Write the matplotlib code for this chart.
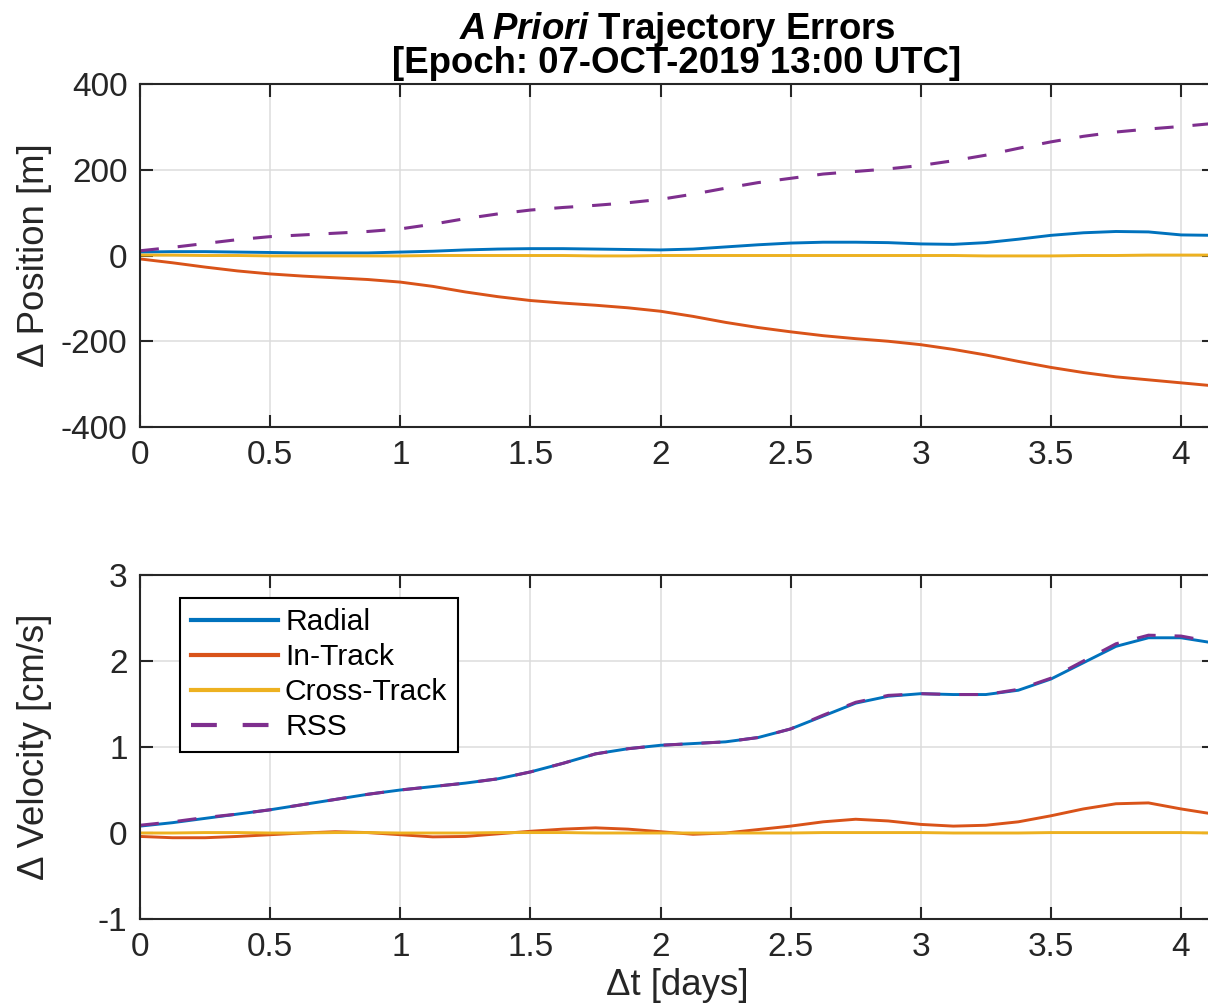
import numpy as np
import matplotlib
matplotlib.use("Agg")
import matplotlib.pyplot as plt

plt.rcParams["font.family"] = ["Liberation Sans", "DejaVu Sans"]
plt.rcParams["mathtext.fontset"] = "custom"
plt.rcParams["mathtext.bfit"] = "Liberation Sans:italic:bold"
plt.rcParams["mathtext.rm"] = "Liberation Sans"

# time since epoch [days]
t = [0, .125, .25, .375, .5, .625, .75, .875, 1.0, 1.125, 1.25, 1.375, 1.5,
     1.625, 1.75, 1.875, 2.0, 2.125, 2.25, 2.375, 2.5, 2.625, 2.75, 2.875,
     3.0, 3.125, 3.25, 3.375, 3.5, 3.625, 3.75, 3.875, 4.0, 4.125]

# position errors [m]
pos_radial = [8, 9, 9, 8, 7, 6, 6, 6, 8, 10, 13, 15, 16, 16, 15, 14, 13, 15,
              20, 25, 29, 31, 31, 30, 27, 26, 30, 38, 47, 53, 56, 55, 48, 47]
pos_intrack = [-8, -17, -27, -36, -43, -48, -52, -56, -62, -72, -85, -96, -105,
               -111, -116, -122, -130, -142, -156, -168, -178, -187, -194, -200,
               -208, -219, -232, -247, -261, -273, -283, -290, -297, -304]
pos_cross = [1, 1, 0, 0, -1, -1, -1, -1, -1, 0, 0, 0, 0, 0, -1, -1, 0, 0, 0, 0,
             0, 0, 0, 0, 0, 0, -1, -1, -1, 0, 0, 1, 1, 1]
pos_rss = [11, 19, 28, 37, 44, 48, 52, 56, 62, 73, 86, 97, 106, 112, 117, 123,
           131, 143, 157, 170, 180, 190, 196, 202, 210, 221, 234, 250, 265, 278,
           288, 295, 301, 308]

# velocity errors [cm/s]
vel_radial = [0.08, 0.12, 0.17, 0.22, 0.27, 0.33, 0.39, 0.45, 0.50, 0.54, 0.58,
              0.63, 0.71, 0.81, 0.92, 0.98, 1.02, 1.04, 1.06, 1.11, 1.21, 1.36,
              1.51, 1.59, 1.62, 1.61, 1.61, 1.66, 1.79, 1.98, 2.17, 2.27, 2.27,
              2.21]
vel_intrack = [-0.04, -0.055, -0.055, -0.04, -0.02, 0.0, 0.015, 0.005, -0.02,
               -0.045, -0.04, -0.01, 0.02, 0.045, 0.06, 0.045, 0.015, -0.015,
               0.0, 0.04, 0.08, 0.13, 0.16, 0.14, 0.10, 0.08, 0.09, 0.13, 0.20,
               0.28, 0.34, 0.35, 0.28, 0.22]
vel_cross = [0.0, 0.0, 0.005, 0.005, 0.0, 0.0, 0.005, 0.005, 0.0, 0.0, 0.0,
             0.005, 0.005, 0.005, 0.0, 0.0, 0.0, 0.0, 0.0, 0.0, 0.0, 0.005,
             0.005, 0.005, 0.005, 0.0, 0.0, 0.0, 0.005, 0.005, 0.005, 0.005,
             0.005, 0.0]
vel_rss = [0.09, 0.13, 0.18, 0.22, 0.27, 0.33, 0.39, 0.45, 0.50, 0.54, 0.58,
           0.63, 0.71, 0.81, 0.92, 0.98, 1.02, 1.04, 1.06, 1.11, 1.21, 1.37,
           1.52, 1.60, 1.62, 1.61, 1.61, 1.67, 1.80, 2.00, 2.20, 2.30, 2.29,
           2.22]

labels = ["Radial", "In-Track", "Cross-Track", "RSS"]
colors = ["#0072BD", "#D95319", "#EDB120", "#7E2F8E"]
SPINE = "#262626"

W, H = 1208, 1008
fig = plt.figure(figsize=(W/100, H/100), dpi=100)
ax1 = fig.add_axes([140/W, 1-427/H, 1074/W, 343/H])
ax2 = fig.add_axes([140/W, 1-919/H, 1074/W, 344/H])


def style(ax, ylim, yticks):
    ax.set_xlim(0, 1074/260.25)
    ax.set_ylim(*ylim)
    ax.set_xticks(np.arange(0, 4.5, 0.5))
    ax.set_xticklabels(["0", "0.5", "1", "1.5", "2", "2.5", "3", "3.5", "4"])
    ax.set_yticks(yticks)
    ax.set_yticklabels([f"{v:g}" for v in yticks])
    ax.grid(True, color="#dcdcdc", lw=1.1)
    ax.set_axisbelow(True)
    for s in ax.spines.values():
        s.set_color(SPINE); s.set_linewidth(1.5)
    ax.tick_params(direction="in", length=9, width=1.5, colors=SPINE,
                   labelsize=24, top=True, right=True, pad=9)
    for lab in ax.get_xticklabels() + ax.get_yticklabels():
        lab.set_color(SPINE)


series = [(pos_radial, vel_radial), (pos_intrack, vel_intrack),
          (pos_cross, vel_cross)]
for (p, v), c, lab in zip(series, colors[:3], labels[:3]):
    ax1.plot(t, p, color=c, lw=2.1, label=lab)
    ax2.plot(t, v, color=c, lw=2.1, label=lab)
ax1.plot(t, pos_rss, color=colors[3], lw=2.2, dashes=(6.2, 6.2), label=labels[3])
ax2.plot(t, vel_rss, color=colors[3], lw=2.2, dashes=(6.2, 6.2), label=labels[3])

style(ax1, (-400, 400), [-400, -200, 0, 200, 400])
style(ax2, (-1, 3), [-1, 0, 1, 2, 3])

ax1.set_ylabel("\u0394 Position [m]", fontsize=26.4, color=SPINE)
ax1.yaxis.set_label_coords(-0.082, 0.5)
ax2.set_ylabel("\u0394 Velocity [cm/s]", fontsize=26.4, color=SPINE)
ax2.yaxis.set_label_coords(-0.082, 0.5)
ax2.set_xlabel("\u0394t [days]", fontsize=26.4, color=SPINE)
ax2.xaxis.set_label_coords(0.5, -0.142)

ax1.set_title("$\\mathbfit{A\\,Priori}$ Trajectory Errors\n"
              "[Epoch: 07-OCT-2019 13:00 UTC]",
              fontsize=26.4, fontweight="bold", pad=8, linespacing=0.9)

leg = ax2.legend(loc="upper left", bbox_to_anchor=(40/1074, 1-23/344),
                 borderaxespad=0, fontsize=21.6, frameon=True, fancybox=False,
                 edgecolor="#000000", framealpha=1, handlelength=2.9,
                 handletextpad=0.25, labelspacing=0.23, borderpad=0.35)
leg.get_frame().set_linewidth(1.5)
for ln in leg.get_lines():
    ln.set_linewidth(3.0)

fig.savefig("out.png", dpi=100)
